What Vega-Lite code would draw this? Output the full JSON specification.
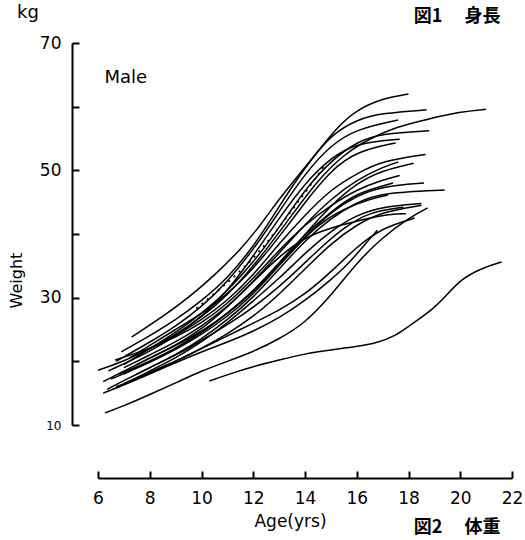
{
"$schema":"https://vega.github.io/schema/vega-lite/v6.json",
"width":414,"height":382,
"autosize":{"type":"none"},
"padding":{"left":98,"top":43,"right":13,"bottom":115},
"background":"white",
"config":{"view":{"stroke":null},"font":"DejaVu Sans","axis":{"grid":false,"domainColor":"black","tickColor":"black","labelColor":"black","titleColor":"black","domainWidth":2,"tickWidth":2,"titleFontWeight":"normal"}},
"datasets":{
"curves":[
{"c":"U1","a":7.3,"w":23.8},{"c":"U1","a":8.5,"w":27},{"c":"U1","a":9.5,"w":30},{"c":"U1","a":10.5,"w":33.5},{"c":"U1","a":11.5,"w":37.5},{"c":"U1","a":12.3,"w":41.5},{"c":"U1","a":13,"w":45.5},{"c":"U1","a":13.7,"w":49},{"c":"U1","a":14.5,"w":53},{"c":"U1","a":15.3,"w":57},{"c":"U1","a":16,"w":59.5},{"c":"U1","a":17,"w":61.3},{"c":"U1","a":18,"w":62},
{"c":"U2","a":6.9,"w":21.5},{"c":"U2","a":8,"w":24},{"c":"U2","a":9,"w":26.5},{"c":"U2","a":10,"w":29.5},{"c":"U2","a":11,"w":33},{"c":"U2","a":12,"w":38},{"c":"U2","a":12.8,"w":43},{"c":"U2","a":13.5,"w":47.5},{"c":"U2","a":14.3,"w":52},{"c":"U2","a":15,"w":55.5},{"c":"U2","a":16,"w":58},{"c":"U2","a":17,"w":59},{"c":"U2","a":18.7,"w":59.5},
{"c":"U3","a":7.5,"w":21},{"c":"U3","a":8.5,"w":23},{"c":"U3","a":9.5,"w":25.5},{"c":"U3","a":10.5,"w":28.5},{"c":"U3","a":11.5,"w":32.5},{"c":"U3","a":12.5,"w":37.5},{"c":"U3","a":13.5,"w":43},{"c":"U3","a":14.5,"w":48.5},{"c":"U3","a":15.5,"w":52.5},{"c":"U3","a":16.5,"w":55},{"c":"U3","a":17.5,"w":56.8},{"c":"U3","a":18.7,"w":58},{"c":"U3","a":20,"w":59.2},{"c":"U3","a":21,"w":59.6},
{"c":"U4","a":6.7,"w":20},{"c":"U4","a":8,"w":23},{"c":"U4","a":9,"w":25.5},{"c":"U4","a":10,"w":28.5},{"c":"U4","a":11,"w":32.5},{"c":"U4","a":12,"w":37.5},{"c":"U4","a":13,"w":43.5},{"c":"U4","a":14,"w":49.5},{"c":"U4","a":15,"w":54},{"c":"U4","a":16,"w":56.5},{"c":"U4","a":17.6,"w":57.9},
{"c":"U5","a":7,"w":19.5},{"c":"U5","a":8,"w":22},{"c":"U5","a":9,"w":24.5},{"c":"U5","a":10,"w":27.5},{"c":"U5","a":11,"w":31},{"c":"U5","a":12,"w":35.5},{"c":"U5","a":13,"w":41},{"c":"U5","a":14,"w":47},{"c":"U5","a":15,"w":51.5},{"c":"U5","a":16,"w":54.5},{"c":"U5","a":17,"w":55.8},{"c":"U5","a":18.8,"w":56.2},
{"c":"U6","a":6.4,"w":18.5},{"c":"U6","a":8,"w":21.5},{"c":"U6","a":9,"w":24},{"c":"U6","a":10,"w":27},{"c":"U6","a":11,"w":31},{"c":"U6","a":12,"w":36.5},{"c":"U6","a":13,"w":42.5},{"c":"U6","a":14,"w":48},{"c":"U6","a":15,"w":52},{"c":"U6","a":16,"w":54.3},{"c":"U6","a":17.66,"w":54.9},
{"c":"U7","a":7.2,"w":20.5},{"c":"U7","a":8,"w":22.5},{"c":"U7","a":9,"w":25},{"c":"U7","a":10,"w":27.5},{"c":"U7","a":11,"w":30.5},{"c":"U7","a":12,"w":34.5},{"c":"U7","a":13,"w":39.5},{"c":"U7","a":14,"w":45},{"c":"U7","a":15,"w":50},{"c":"U7","a":16,"w":53},{"c":"U7","a":17.5,"w":54.3},
{"c":"M1","a":6,"w":18.6},{"c":"M1","a":7,"w":20},{"c":"M1","a":8,"w":22},{"c":"M1","a":9,"w":24},{"c":"M1","a":10,"w":26.5},{"c":"M1","a":11,"w":29.5},{"c":"M1","a":12,"w":33.5},{"c":"M1","a":13,"w":38.5},{"c":"M1","a":14,"w":43},{"c":"M1","a":15,"w":47},{"c":"M1","a":16,"w":49.5},{"c":"M1","a":17,"w":51.5},{"c":"M1","a":18.66,"w":52.5},
{"c":"M2","a":6.2,"w":16.8},{"c":"M2","a":7,"w":18.5},{"c":"M2","a":8,"w":20.5},{"c":"M2","a":9,"w":22.5},{"c":"M2","a":10,"w":25},{"c":"M2","a":11,"w":28.5},{"c":"M2","a":12,"w":32.5},{"c":"M2","a":13,"w":37},{"c":"M2","a":14,"w":41.5},{"c":"M2","a":15,"w":45.5},{"c":"M2","a":16,"w":48.5},{"c":"M2","a":17,"w":50.5},{"c":"M2","a":17.6,"w":51.3},
{"c":"M3","a":6.66,"w":20.2},{"c":"M3","a":8,"w":22},{"c":"M3","a":9,"w":23.8},{"c":"M3","a":10,"w":26},{"c":"M3","a":11,"w":29},{"c":"M3","a":12,"w":33},{"c":"M3","a":13,"w":37.5},{"c":"M3","a":14,"w":41.5},{"c":"M3","a":15,"w":44.5},{"c":"M3","a":16,"w":47},{"c":"M3","a":17,"w":48.5},{"c":"M3","a":17.66,"w":49.2},
{"c":"M4","a":7,"w":18},{"c":"M4","a":8,"w":20},{"c":"M4","a":9,"w":22},{"c":"M4","a":10,"w":24.5},{"c":"M4","a":11,"w":27.5},{"c":"M4","a":12,"w":31},{"c":"M4","a":13,"w":35},{"c":"M4","a":14,"w":39.5},{"c":"M4","a":15,"w":43.5},{"c":"M4","a":16,"w":46},{"c":"M4","a":17,"w":47.5},{"c":"M4","a":18.6,"w":48},
{"c":"M5","a":6.35,"w":15.6},{"c":"M5","a":7,"w":17},{"c":"M5","a":8,"w":19},{"c":"M5","a":9,"w":21},{"c":"M5","a":10,"w":23.5},{"c":"M5","a":11,"w":26.5},{"c":"M5","a":12,"w":30},{"c":"M5","a":13,"w":34.5},{"c":"M5","a":14,"w":39},{"c":"M5","a":15,"w":42.5},{"c":"M5","a":16,"w":45},{"c":"M5","a":17,"w":46.5},{"c":"M5","a":19.4,"w":46.9},
{"c":"M6","a":6.7,"w":15.8},{"c":"M6","a":8,"w":18.5},{"c":"M6","a":9,"w":20.5},{"c":"M6","a":10,"w":23},{"c":"M6","a":11,"w":26},{"c":"M6","a":12,"w":29.5},{"c":"M6","a":13,"w":33},{"c":"M6","a":14,"w":37},{"c":"M6","a":15,"w":40.5},{"c":"M6","a":16,"w":43},{"c":"M6","a":17,"w":44.3},{"c":"M6","a":18.5,"w":44.8},
{"c":"M7","a":7,"w":19},{"c":"M7","a":8,"w":21},{"c":"M7","a":9,"w":23},{"c":"M7","a":10,"w":25.5},{"c":"M7","a":11,"w":28.5},{"c":"M7","a":12,"w":32.5},{"c":"M7","a":13,"w":36.5},{"c":"M7","a":14,"w":39.5},{"c":"M7","a":15,"w":41},{"c":"M7","a":16,"w":42},{"c":"M7","a":17,"w":43},{"c":"M7","a":17.9,"w":43.2},
{"c":"M8","a":6.5,"w":17.2},{"c":"M8","a":8,"w":19.8},{"c":"M8","a":9,"w":21.8},{"c":"M8","a":10,"w":24.2},{"c":"M8","a":11,"w":27},{"c":"M8","a":12,"w":30.5},{"c":"M8","a":13,"w":35},{"c":"M8","a":14,"w":40},{"c":"M8","a":15,"w":44.5},{"c":"M8","a":16,"w":48},{"c":"M8","a":17,"w":50},{"c":"M8","a":18.2,"w":51.1},
{"c":"M9","a":7.5,"w":19.5},{"c":"M9","a":8.5,"w":21.5},{"c":"M9","a":9.5,"w":23.5},{"c":"M9","a":10.5,"w":26},{"c":"M9","a":11.5,"w":29},{"c":"M9","a":12.5,"w":33},{"c":"M9","a":13.5,"w":37.5},{"c":"M9","a":14.5,"w":41.5},{"c":"M9","a":15.5,"w":44},{"c":"M9","a":16.5,"w":45.5},{"c":"M9","a":17.2,"w":46.1},
{"c":"M10","a":6.8,"w":18},{"c":"M10","a":8,"w":20},{"c":"M10","a":9,"w":22},{"c":"M10","a":10,"w":24.5},{"c":"M10","a":11,"w":27.5},{"c":"M10","a":12,"w":31},{"c":"M10","a":13,"w":35.5},{"c":"M10","a":14,"w":40},{"c":"M10","a":15,"w":43.5},{"c":"M10","a":16,"w":46.5},{"c":"M10","a":17.4,"w":48},
{"c":"L1","a":6.27,"w":11.9},{"c":"L1","a":7,"w":13},{"c":"L1","a":8,"w":14.8},{"c":"L1","a":9,"w":16.6},{"c":"L1","a":10,"w":18.5},{"c":"L1","a":11,"w":20},{"c":"L1","a":12,"w":21.5},{"c":"L1","a":13,"w":23.5},{"c":"L1","a":14,"w":26},{"c":"L1","a":15,"w":30.3},{"c":"L1","a":16,"w":35.5},{"c":"L1","a":17,"w":39.5},{"c":"L1","a":18,"w":42.5},{"c":"L1","a":18.74,"w":44.1},
{"c":"L2","a":6.7,"w":16},{"c":"L2","a":8,"w":18},{"c":"L2","a":9,"w":19.8},{"c":"L2","a":10,"w":21.5},{"c":"L2","a":11,"w":23},{"c":"L2","a":12,"w":24.7},{"c":"L2","a":13,"w":26.8},{"c":"L2","a":14,"w":29.5},{"c":"L2","a":15,"w":32.8},{"c":"L2","a":15.7,"w":35.4},{"c":"L2","a":16.3,"w":38.3},{"c":"L2","a":16.8,"w":40.6},
{"c":"L3","a":7,"w":16.5},{"c":"L3","a":8,"w":18.3},{"c":"L3","a":9,"w":20},{"c":"L3","a":10,"w":22},{"c":"L3","a":11,"w":24},{"c":"L3","a":12,"w":26},{"c":"L3","a":13,"w":28},{"c":"L3","a":14,"w":30.5},{"c":"L3","a":15,"w":34},{"c":"L3","a":16,"w":38},{"c":"L3","a":17,"w":41},{"c":"L3","a":18.24,"w":42.5},
{"c":"L4","a":6.2,"w":15},{"c":"L4","a":7,"w":16.3},{"c":"L4","a":8,"w":18},{"c":"L4","a":9,"w":20},{"c":"L4","a":10,"w":22},{"c":"L4","a":11,"w":24.3},{"c":"L4","a":12,"w":27},{"c":"L4","a":13,"w":30.5},{"c":"L4","a":14,"w":34.5},{"c":"L4","a":15,"w":38.5},{"c":"L4","a":16,"w":41.5},{"c":"L4","a":17,"w":43.5},{"c":"L4","a":18.5,"w":44.5},
{"c":"L5","a":7.5,"w":18},{"c":"L5","a":8.5,"w":20},{"c":"L5","a":9.5,"w":22},{"c":"L5","a":10.5,"w":24.5},{"c":"L5","a":11.5,"w":27},{"c":"L5","a":12.5,"w":30},{"c":"L5","a":13.5,"w":33.5},{"c":"L5","a":14.5,"w":37.5},{"c":"L5","a":15.5,"w":41},{"c":"L5","a":16.5,"w":43.5},{"c":"L5","a":17.8,"w":44.2},
{"c":"B","a":10.3,"w":16.9},{"c":"B","a":11,"w":17.9},{"c":"B","a":12,"w":19.2},{"c":"B","a":13,"w":20.2},{"c":"B","a":14,"w":21.2},{"c":"B","a":15,"w":21.8},{"c":"B","a":16,"w":22.3},{"c":"B","a":16.8,"w":22.9},{"c":"B","a":17.5,"w":24},{"c":"B","a":18,"w":25.5},{"c":"B","a":18.9,"w":28},{"c":"B","a":19.5,"w":30.5},{"c":"B","a":20,"w":32.8},{"c":"B","a":20.8,"w":34.6},{"c":"B","a":21.6,"w":35.6}
],
"dotted":[
{"c":"D","a":9.8,"w":28.3},{"c":"D","a":10.8,"w":31.6},{"c":"D","a":12,"w":36},{"c":"D","a":13,"w":41},{"c":"D","a":14,"w":46.5},{"c":"D","a":14.8,"w":51}
],
"notes":[
{"t":"kg","a":2.87,"w":74.7,"s":"n"},
{"t":"Male","a":6.25,"w":64.5,"s":"n"},
{"t":"図2　 体重","a":18.2,"w":-6.2,"s":"j"},
{"t":"図1　 身長","a":18.2,"w":74.1,"s":"j"}
]
},
"layer":[
{"data":{"name":"curves"},
 "mark":{"type":"line","interpolate":"basis","color":"black","strokeWidth":1.5,"clip":false},
 "encoding":{
  "x":{"field":"a","type":"quantitative","scale":{"domain":[6,22],"nice":false,"zero":false},
   "axis":{"values":[6,7,8,9,10,11,12,13,14,15,16,17,18,19,20,21,22],"labelExpr":"datum.value % 2 == 0 ? datum.label : ''","offset":53,"tickSize":-7,"labelPadding":19,"labelFontSize":17,"labelFlush":false,"title":"Age(yrs)","titleFontSize":17,"titlePadding":7,"titleX":192}},
  "y":{"field":"w","type":"quantitative","scale":{"domain":[10,70],"nice":false,"zero":false},
   "axis":{"values":[10,20,30,40,50,60,70],"labelExpr":"datum.value % 20 == 10 ? datum.label : ''","labelFontSize":{"expr":"datum.value == 10 ? 12 : 17"},"offset":26,"tickSize":-7,"labelPadding":18,"labelFlush":false,"title":"Weight","titleFontSize":16,"titleX":-48,"titleY":237}},
  "detail":{"field":"c"}
 }},
{"data":{"name":"dotted"},
 "mark":{"type":"line","interpolate":"basis","color":"black","strokeWidth":1.8,"strokeDash":[2,5]},
 "encoding":{"x":{"field":"a","type":"quantitative"},"y":{"field":"w","type":"quantitative"},"detail":{"field":"c"}}},
{"data":{"name":"notes"},
 "transform":[{"filter":"datum.s == 'n'"}],
 "mark":{"type":"text","align":"left","baseline":"middle","fontSize":18,"color":"black","clip":false},
 "encoding":{"x":{"field":"a","type":"quantitative"},"y":{"field":"w","type":"quantitative"},"text":{"field":"t"}}},
{"data":{"name":"notes"},
 "transform":[{"filter":"datum.s == 'j'"}],
 "mark":{"type":"text","align":"left","baseline":"middle","fontSize":18,"fontWeight":"bold","font":"Noto Sans CJK JP","color":"black","clip":false},
 "encoding":{"x":{"field":"a","type":"quantitative"},"y":{"field":"w","type":"quantitative"},"text":{"field":"t"}}}
]
}
